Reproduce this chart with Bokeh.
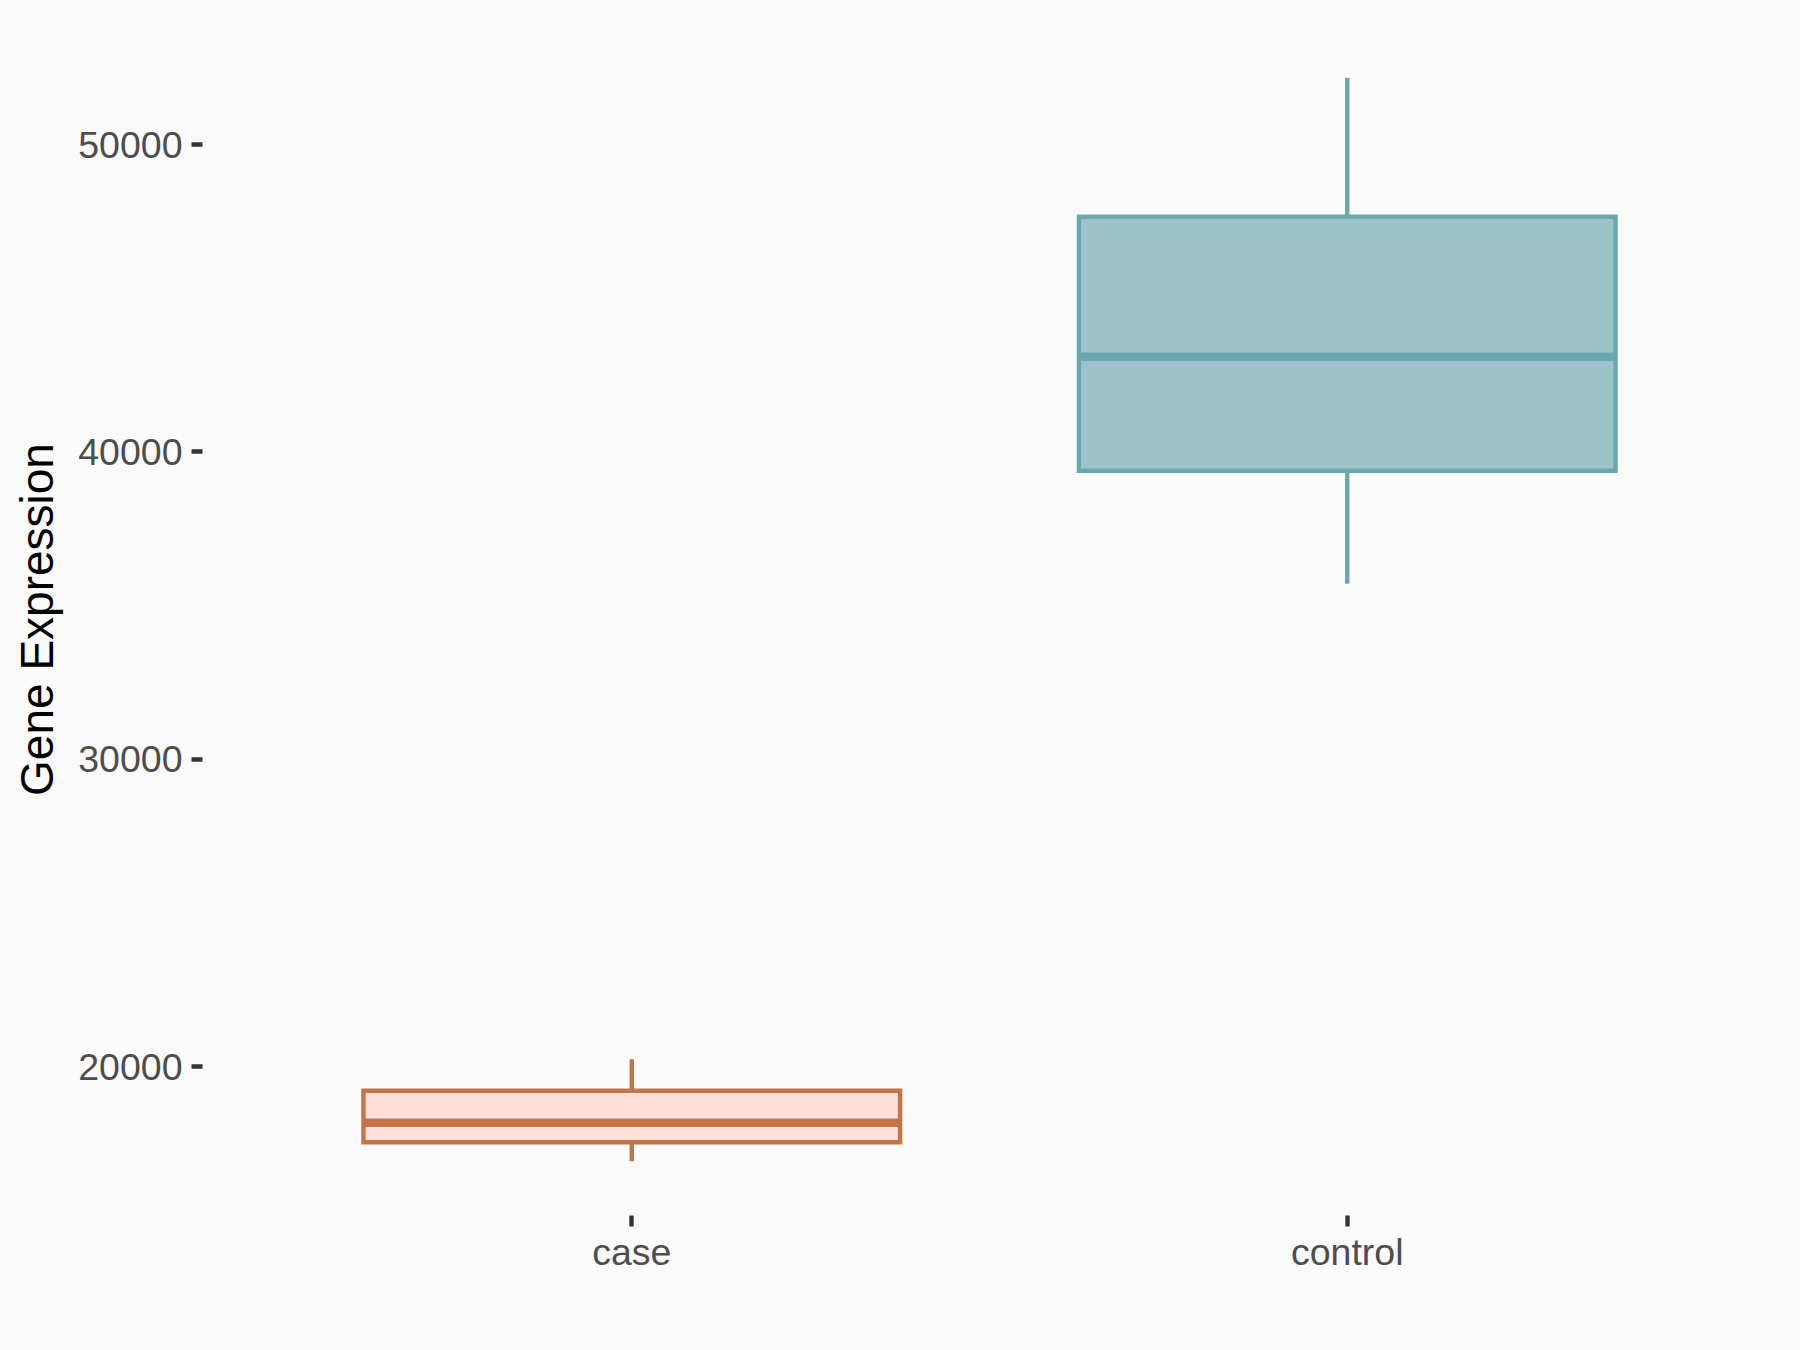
from bokeh.plotting import figure
from bokeh.models import FactorRange, Range1d, FixedTicker, ColumnDataSource
from bokeh.embed import file_html
from bokeh.resources import INLINE

# ---- data ----
groups = ["case", "control"]
lower_whisker = [16915, 35711]
q1 = [17536, 39388]
median = [18171, 43098]
q3 = [19213, 47654]
upper_whisker = [20238, 52177]
line_colors = ["#C0754A", "#6AA7AE"]
fill_colors = ["#FEE0D6", "#9CC4C8"]
y_ticks = [20000, 30000, 40000, 50000]

span = max(upper_whisker) - min(lower_whisker)
y_lo = min(lower_whisker) - 0.05 * span
y_hi = max(upper_whisker) + 0.05 * span

src = ColumnDataSource(dict(
    g=groups, lo=lower_whisker, q1=q1, med=median, q3=q3, hi=upper_whisker,
    lc=line_colors, fc=fill_colors,
))

BG = "#FAFAFA"
p = figure(
    x_range=FactorRange(*groups, range_padding=0.1, range_padding_units="percent"),
    y_range=Range1d(y_lo, y_hi),
    width=1800, height=1350,
    min_border_left=202, min_border_right=24, min_border_top=23, min_border_bottom=135,
    output_backend="svg", toolbar_location=None,
    background_fill_color=BG, border_fill_color=BG,
)
p.outline_line_color = None
p.grid.visible = False

lw = 4.4
# whiskers
p.segment(x0="g", y0="q3", x1="g", y1="hi", source=src, line_color="lc", line_width=lw)
p.segment(x0="g", y0="lo", x1="g", y1="q1", source=src, line_color="lc", line_width=lw)
# boxes
p.vbar(x="g", width=0.75, bottom="q1", top="q3", source=src,
       fill_color="fc", line_color="lc", line_width=lw, line_join="miter")
# medians
p.vbar(x="g", width=0.75, bottom="med", top="med", source=src,
       fill_color=None, line_color="lc", line_width=8.5)

TICK_FONT = "Liberation Sans"
for ax in (p.xaxis[0], p.yaxis[0]):
    ax.axis_line_color = None
    ax.major_tick_in = 0
    ax.major_tick_out = 11
    ax.major_tick_line_color = "#333333"
    ax.major_tick_line_width = 4.4
    ax.minor_tick_line_color = None
    ax.major_label_text_font = TICK_FONT
    ax.major_label_text_font_size = "37.5px"
    ax.major_label_text_color = "#4D4D4D"
    ax.major_label_standoff = 9
    ax.axis_label_text_font = TICK_FONT
    ax.axis_label_text_font_size = "46px"
    ax.axis_label_text_font_style = "normal"
    ax.axis_label_text_color = "#000000"
    ax.axis_label_standoff = 12

p.xaxis[0].major_label_standoff = 4
p.yaxis[0].ticker = FixedTicker(ticks=y_ticks)
p.yaxis[0].axis_label = "Gene Expression"

html = file_html(p, INLINE)
html = html.replace("<head>", "<head><style>html,body{background:#FAFAFA;}</style>", 1)
open("out.html", "w").write(html)
